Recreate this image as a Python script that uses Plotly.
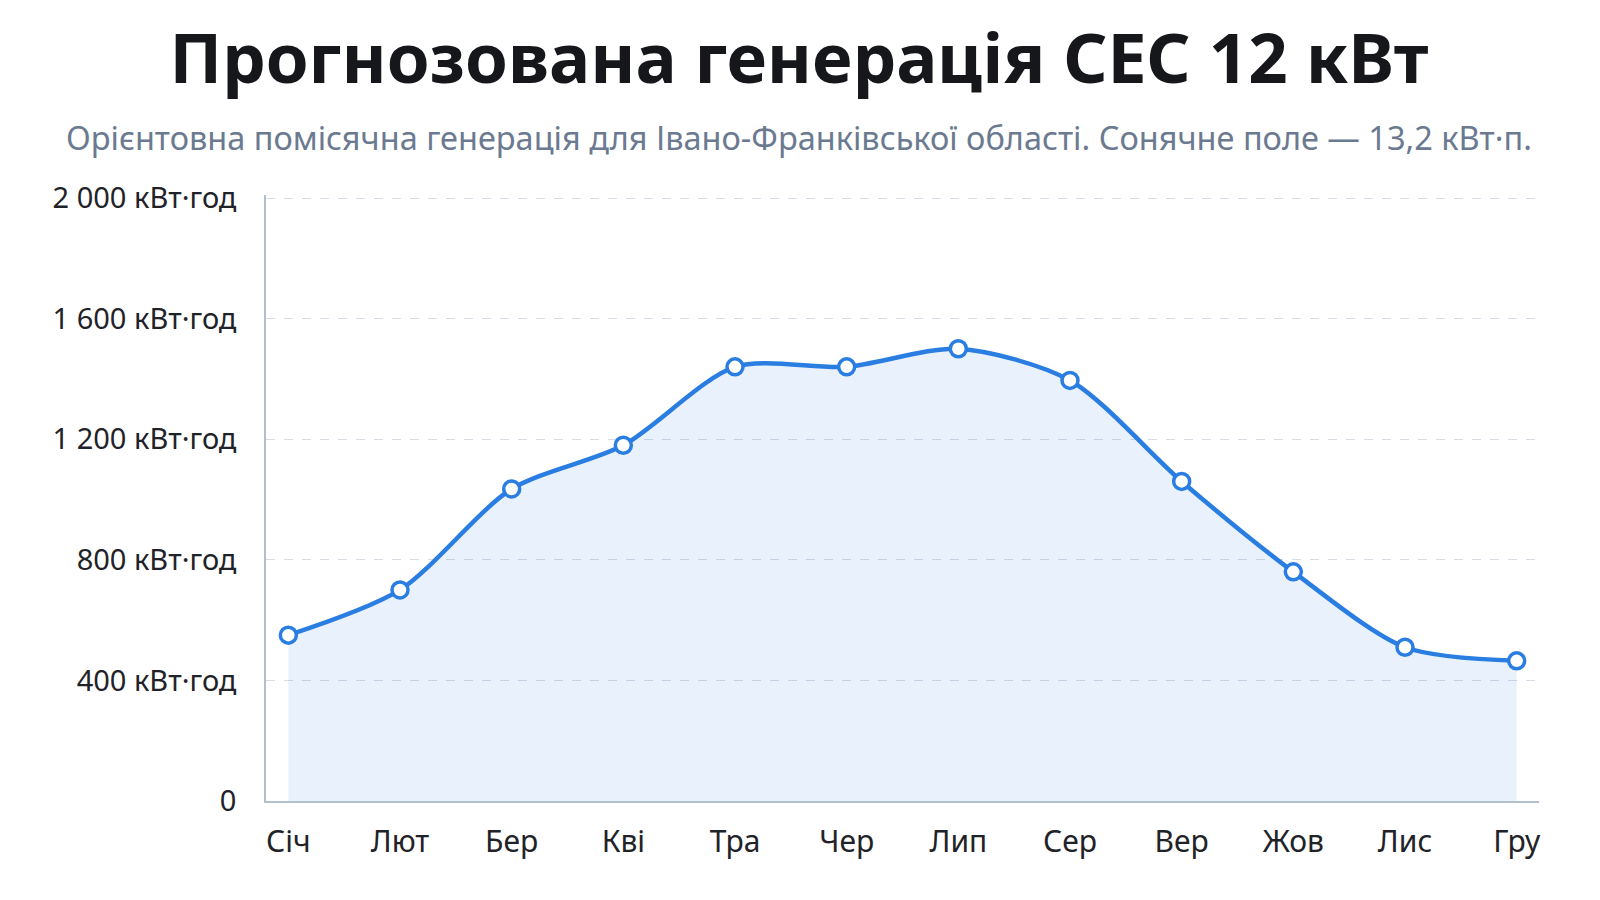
import plotly.graph_objects as go

# Дані
months = ['Січ', 'Лют', 'Бер', 'Кві', 'Тра', 'Чер', 'Лип', 'Сер', 'Вер', 'Жов', 'Лис', 'Гру']
generation = [550, 700, 1035, 1180, 1440, 1440, 1500, 1395, 1060, 760, 510, 465]
y_ticks = [0, 400, 800, 1200, 1600, 2000]
y_tick_labels = ['0', '400 кВт·год', '800 кВт·год', '1 200 кВт·год', '1 600 кВт·год', '2 000 кВт·год']

title_text = 'Прогнозована генерація СЕС 12 кВт'
subtitle_text = 'Орієнтовна помісячна генерація для Івано-Франківської області. Сонячне поле — 13,2 кВт·п.'

blue = '#2a7de1'
font_name = 'Noto Sans'

fig = go.Figure()
fig.add_trace(go.Scatter(
    x=months,
    y=generation,
    mode='lines+markers',
    line=dict(color=blue, width=4.5, shape='spline', smoothing=0.8),
    marker=dict(size=16, color='white', line=dict(color=blue, width=3.5)),
    fill='tozeroy',
    fillcolor='rgba(42,125,225,0.1)',
    hoverinfo='x+y',
))

fig.update_layout(
    width=1600,
    height=900,
    paper_bgcolor='white',
    plot_bgcolor='white',
    margin=dict(l=258, r=69, t=187, b=107),
    showlegend=False,
    font=dict(family=font_name, color='#1f2328'),
    title=dict(
        text='<b>' + title_text + '</b>',
        x=0.4944, xref='container', xanchor='center',
        y=1 - 51 / 900, yref='container', yanchor='middle',
        font=dict(size=69, color='#15171a', family=font_name),
    ),
    annotations=[dict(
        text=subtitle_text,
        xref='paper', yref='paper',
        x=(791 - 258) / 1273, y=(793 - 129) / 606,
        xanchor='center', yanchor='middle',
        showarrow=False,
        font=dict(size=32.5, color='#6b7a90', family=font_name),
    )],
)

fig.update_xaxes(
    type='category',
    range=[-0.2, 11.2],
    showgrid=False,
    showline=True, linecolor='#b3bfcc', linewidth=1.5,
    ticks='',
    tickfont=dict(size=30, color='#1f2328'),
    ticklabelstandoff=13,
    zeroline=False,
)

fig.update_yaxes(
    range=[0, 2010],
    tickvals=y_ticks,
    ticktext=y_tick_labels,
    showgrid=True, gridcolor='#d5dce5', griddash='dash', gridwidth=1,
    showline=True, linecolor='#b3bfcc', linewidth=1.5,
    ticks='',
    tickfont=dict(size=29, color='#1f2328'),
    ticklabelstandoff=22,
    zeroline=False,
)

fig.write_html('out.html')
